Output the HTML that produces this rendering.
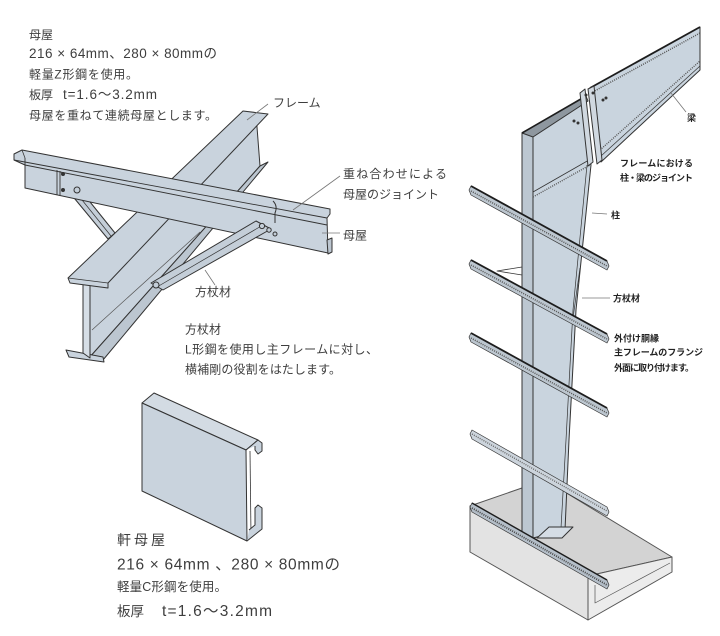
<!DOCTYPE html>
<html>
<head>
<meta charset="utf-8">
<style>
  html,body{margin:0;padding:0;background:#fff;}
  svg{display:block;}
  text{font-family:"Liberation Sans","Noto Sans CJK JP",sans-serif;}
</style>
</head>
<body>
<svg width="720" height="636" viewBox="0 0 720 636" xmlns="http://www.w3.org/2000/svg">
  <rect width="720" height="636" fill="#ffffff"/>

  <!-- ===== LEFT TOP TEXT ===== -->
  <g font-size="12" fill="#3e3e3e">
    <text x="29" y="39">母屋</text>
    <text x="29" y="58" font-size="13.5" textLength="188" lengthAdjust="spacing">216 × 64mm、280 × 80mmの</text>
    <text x="29" y="78.5" textLength="109" lengthAdjust="spacing">軽量Z形鋼を使用。</text>
    <text x="29" y="99">板厚</text>
    <text x="63" y="99" font-size="13.5" textLength="94" lengthAdjust="spacing">t=1.6〜3.2mm</text>
    <text x="29" y="119.5" textLength="188" lengthAdjust="spacing">母屋を重ねて連続母屋とします。</text>
  </g>

  <!-- ===== LEFT DIAGRAM: H-beam frame with purlin ===== -->
  <g stroke="#333" stroke-width="1" stroke-linejoin="round">
    <!-- web face -->
    <polygon points="256,114 260,166 89,358 90,285" fill="#c9d3dd"/>
    <!-- back flange right strip -->
    <polygon points="260,166 268,162 103,360 89,358" fill="#bcc6d0"/>
    <line x1="92" y1="330" x2="200" y2="232" stroke="#555" stroke-width="0.7"/>
    <!-- back flange bottom end -->
    <polygon points="66,350 103,357 104,362 69,357" fill="#c9d3dd"/>
    <!-- web end face -->
    <polygon points="83,284 90,285 90,358 83,353" fill="#d6dee6"/>
    <!-- left brace -->
    <polygon points="70,193 78,187 115,233 108,239" fill="#c4ced8"/>
    <line x1="74" y1="190" x2="111" y2="236" stroke-width="0.7"/>
    <!-- front flange -->
    <polygon points="243,111 268,114 108,283 108,288 70,283 68,278" fill="#c9d3dd"/>
    <line x1="68" y1="278" x2="108" y2="283" stroke-width="0.8"/>

    <!-- purlin -->
    <polygon points="14,154 22,150 330,209 330,214 327,218 328,253 25,188 25,165 14,160" fill="#c9d3dd"/>
    <line x1="14" y1="160" x2="327" y2="218" stroke-width="0.9"/>
    <line x1="25" y1="165" x2="327" y2="225" stroke-width="0.9"/>
    <line x1="22" y1="150" x2="25" y2="158" stroke-width="0.8"/>
    <line x1="25" y1="158" x2="25" y2="188" stroke-width="0.9"/>
    <line x1="57" y1="170" x2="57" y2="195" stroke-width="0.9"/>
    <line x1="60" y1="171" x2="60" y2="196" stroke-width="0.9"/>
    <path d="M273,201 q5,5 2,12 l0,10" fill="none" stroke-width="1"/>
    <polygon points="327,240 332,238 332,252 328,254" fill="#bcc6d0"/>
    <circle cx="63" cy="174" r="1.5" fill="#333"/>
    <circle cx="63" cy="190" r="1.5" fill="#333"/>
    <circle cx="77" cy="190" r="3" fill="#c4ced8"/>

    <!-- right brace -->
    <polygon points="256,221 271,229 163,290 151,283" fill="#c4ced8"/>
    <line x1="263" y1="225" x2="157" y2="287" stroke-width="0.7"/>
    <circle cx="262" cy="226" r="2.6" fill="#c4ced8"/>
    <circle cx="269" cy="230" r="2.2" fill="#c4ced8"/>
    <circle cx="275" cy="234" r="2" fill="#c4ced8"/>
    <circle cx="156" cy="285" r="3" fill="#c4ced8"/>
  </g>

  <!-- leader lines left -->
  <g stroke="#777" stroke-width="0.8">
    <line x1="268" y1="104" x2="247" y2="120"/>
    <line x1="340" y1="176" x2="293" y2="210"/>
    <line x1="322" y1="233" x2="340" y2="233"/>
    <line x1="205" y1="270" x2="215" y2="285"/>
  </g>
  <g font-size="12" fill="#3e3e3e">
    <text x="273" y="107">フレーム</text>
    <text x="343" y="178" textLength="104" lengthAdjust="spacing">重ね合わせによる</text>
    <text x="343" y="198.5" textLength="96" lengthAdjust="spacing">母屋のジョイント</text>
    <text x="343" y="239.5">母屋</text>
    <text x="195" y="296">方杖材</text>
  </g>

  <!-- middle text -->
  <g font-size="12" fill="#3e3e3e">
    <text x="185" y="333.5">方杖材</text>
    <text x="185" y="353.5" textLength="193" lengthAdjust="spacing">L形鋼を使用し主フレームに対し、</text>
    <text x="185" y="373.5" textLength="156" lengthAdjust="spacing">横補剛の役割をはたします。</text>
  </g>

  <!-- ===== C-section (軒母屋) ===== -->
  <g stroke="#333" stroke-width="1" stroke-linejoin="round">
    <polygon points="142,403 154,393 258,440 246,450" fill="#d3dbe3"/>
    <polygon points="142,403 246,450 247,541 142,491" fill="#c9d3dd"/>
    <line x1="250" y1="451" x2="251" y2="535" stroke-width="0.8"/>
    <path d="M246,450 L258,440 L262,443 L262,451 L258,454 L255,450 L255,446" fill="#c9d3dd"/>
    <path d="M247,541 L262,529 L262,508 L258,505 L255,508 L255,525 L249,530" fill="#c9d3dd"/>
  </g>

  <!-- bottom text -->
  <g font-size="13" fill="#3e3e3e">
    <text x="117" y="545" font-size="14" textLength="48" lengthAdjust="spacing">軒母屋</text>
    <text x="117" y="569.5" font-size="15.5" textLength="223" lengthAdjust="spacing">216 × 64mm 、280 × 80mmの</text>
    <text x="117" y="591" font-size="12.5" textLength="110" lengthAdjust="spacing">軽量C形鋼を使用。</text>
    <text x="117" y="616" font-size="13.5">板厚</text>
    <text x="162" y="616" font-size="15.5" textLength="110" lengthAdjust="spacing">t=1.6〜3.2mm</text>
  </g>

  <!-- ===== RIGHT DIAGRAM ===== -->
  <!-- foundation -->
  <g stroke="#555" stroke-width="1" stroke-linejoin="round">
    <polygon points="470,506 545,480 672,557 588,576" fill="#d3d3d3"/>
    <polygon points="470,506 588,576 588,620 470,552" fill="#e3e3e3"/>
    <polygon points="588,576 672,557 672,572 588,620" fill="#ececec"/>
    <polyline points="595,585 595,603 670,563" fill="none" stroke-width="0.7"/>
  </g>

  <!-- column -->
  <g stroke="#333" stroke-width="1" stroke-linejoin="round">
    <polygon points="522,133 533,128 533,538 522,538" fill="#bcc7d1"/>
    <polygon points="533,128 585,98 591,165 576,310 569,440 565,530 533,538" fill="#c9d4de"/>
    <polyline points="587,165 573,310 566,440 561,528" fill="none" stroke-width="0.7"/>
    <!-- column top flange edge -->
    <polygon points="522,133 586,96 588,101 533,137" fill="#8e979f"/>
    <!-- haunch band -->
    <line x1="533" y1="192" x2="589" y2="160" stroke-width="0.8"/>
    <line x1="533" y1="197" x2="590" y2="165" stroke="#555" stroke-width="1.4" stroke-dasharray="1 1.2"/>
    <!-- stubs / brace -->
    <polyline points="522,267 497,271 522,275" fill="none" stroke-width="0.8"/>
    <line x1="580" y1="268" x2="573" y2="318" stroke-width="0.7"/>
    <!-- base plate -->
    <polygon points="537,538 549,527 573,527 562,538" fill="#d5dde5"/>
  </g>

  <!-- rafter -->
  <g stroke="#333" stroke-width="1" stroke-linejoin="round">
    <polygon points="590,88 700,27 700,70 601,162" fill="#c9d4de"/>
    <line x1="590" y1="88" x2="700" y2="27" stroke="#1d1d1d" stroke-width="1.8"/>
    <line x1="591" y1="93" x2="700" y2="33" stroke="#555" stroke-width="1.5" stroke-dasharray="1 1.2"/>
    <line x1="600" y1="150" x2="700" y2="61" stroke="#555" stroke-width="1.4" stroke-dasharray="1 1.2"/>
    <line x1="601" y1="156" x2="700" y2="66" stroke-width="0.7"/>
    <!-- column top edge hatch -->
    <line x1="522" y1="133" x2="586" y2="96" stroke="#1d1d1d" stroke-width="1.6"/>
    <!-- joint plates -->
    <polygon points="580,93 585,89 593,162 588,166" fill="#d0d8e0"/>
    <polygon points="588,89 594,86 602,160 597,164" fill="#d0d8e0"/>
    <circle cx="574" cy="121" r="1" fill="#333"/>
    <circle cx="578" cy="123" r="1" fill="#333"/>
    <circle cx="603" cy="100" r="1" fill="#333"/>
    <circle cx="606" cy="98" r="1" fill="#333"/>
    <circle cx="586" cy="95" r="1" fill="#333"/>
    <circle cx="593" cy="93" r="1" fill="#333"/>
  </g>

  <!-- girts -->
  <g stroke="#333" stroke-width="0.7" stroke-linejoin="round">
    <polygon points="471,186 607,261 609,266 607,270 471,195 469,190" fill="#bcc6cf"/>
    <line x1="471" y1="186" x2="607" y2="261" stroke="#1d1d1d" stroke-width="1.8"/>
    <line x1="471" y1="191" x2="607" y2="266" stroke="#555" stroke-width="1.5" stroke-dasharray="1 1.2"/>

    <polygon points="471,260 607,334 609,339 607,343 471,269 469,264" fill="#bcc6cf"/>
    <line x1="471" y1="260" x2="607" y2="334" stroke="#1d1d1d" stroke-width="1.8"/>
    <line x1="471" y1="265" x2="607" y2="339" stroke="#555" stroke-width="1.5" stroke-dasharray="1 1.2"/>

    <polygon points="471,333 607,408 609,413 607,417 471,342 469,337" fill="#bcc6cf"/>
    <line x1="471" y1="333" x2="607" y2="408" stroke="#1d1d1d" stroke-width="1.8"/>
    <line x1="471" y1="338" x2="607" y2="413" stroke="#555" stroke-width="1.5" stroke-dasharray="1 1.2"/>

    <polygon points="472,430 607,507 609,512 607,516 472,439 470,434" fill="#ccd4dc"/>
    <line x1="472" y1="434" x2="607" y2="511" stroke="#666" stroke-width="1.4" stroke-dasharray="1 1.2"/>

    <polygon points="472,503 607,580 609,585 607,589 472,512 470,507" fill="#b4bec8"/>
    <line x1="472" y1="503" x2="607" y2="580" stroke="#1d1d1d" stroke-width="1.4"/>
    <line x1="472" y1="508" x2="607" y2="585" stroke="#444" stroke-width="1.8" stroke-dasharray="1 1.2"/>
  </g>

  <!-- right leaders -->
  <g stroke="#777" stroke-width="0.8">
    <line x1="671" y1="93" x2="686" y2="112"/>
    <line x1="592" y1="213" x2="607" y2="214"/>
    <line x1="582" y1="298" x2="610" y2="298"/>
  </g>
  <g font-size="9" fill="#222" font-weight="bold">
    <text x="687" y="121">梁</text>
    <text x="620" y="166.5" textLength="73" lengthAdjust="spacing">フレームにおける</text>
    <text x="620" y="181" textLength="73" lengthAdjust="spacing">柱・梁のジョイント</text>
    <text x="611" y="218.5">柱</text>
    <text x="613" y="301.5">方杖材</text>
    <text x="614" y="341.5">外付け胴縁</text>
    <text x="614" y="355.5" textLength="89" lengthAdjust="spacing">主フレームのフランジ</text>
    <text x="614" y="371" textLength="80" lengthAdjust="spacing">外面に取り付けます。</text>
  </g>
</svg>
</body>
</html>
